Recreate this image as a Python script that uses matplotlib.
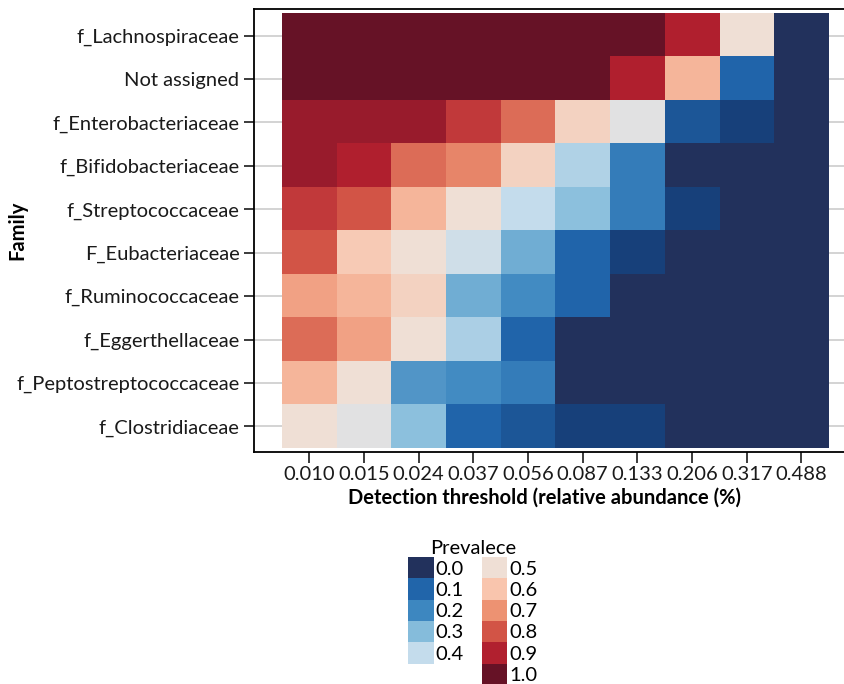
import numpy as np
import matplotlib
matplotlib.use("Agg")
from matplotlib import pyplot as plt
from matplotlib.colors import LinearSegmentedColormap
from matplotlib.patches import Patch

plt.rcParams["font.family"] = ["Lato", "DejaVu Sans"]

families = ["f_Lachnospiraceae", "Not assigned", "f_Enterobacteriaceae",
            "f_Bifidobacteriaceae", "f_Streptococcaceae", "F_Eubacteriaceae",
            "f_Ruminococcaceae", "f_Eggerthellaceae", "f_Peptostreptococcaceae",
            "f_Clostridiaceae"]
thresholds = ["0.010", "0.015", "0.024", "0.037", "0.056", "0.087", "0.133",
              "0.206", "0.317", "0.488"]

# prevalence per family (rows) and detection threshold (columns)
lachno = [1.0, 1.0, 1.0, 1.0, 1.0, 1.0, 1.0, 0.9, 0.5, 0.0]
not_assigned = [1.0, 1.0, 1.0, 1.0, 1.0, 1.0, 0.9, 0.63, 0.1, 0.0]
entero = [0.93, 0.93, 0.93, 0.85, 0.76, 0.55, 0.45, 0.08, 0.05, 0.0]
bifido = [0.93, 0.9, 0.76, 0.72, 0.55, 0.37, 0.17, 0.0, 0.0, 0.0]
strepto = [0.85, 0.8, 0.63, 0.5, 0.4, 0.31, 0.17, 0.05, 0.0, 0.0]
eubact = [0.8, 0.58, 0.5, 0.42, 0.27, 0.1, 0.05, 0.0, 0.0, 0.0]
rumino = [0.67, 0.63, 0.55, 0.27, 0.21, 0.1, 0.0, 0.0, 0.0, 0.0]
egger = [0.76, 0.67, 0.5, 0.36, 0.1, 0.0, 0.0, 0.0, 0.0, 0.0]
pepto = [0.63, 0.5, 0.23, 0.21, 0.17, 0.0, 0.0, 0.0, 0.0, 0.0]
clostr = [0.5, 0.45, 0.31, 0.1, 0.08, 0.05, 0.05, 0.0, 0.0, 0.0]

legend_levels = [0.0, 0.1, 0.2, 0.3, 0.4, 0.5, 0.6, 0.7, 0.8, 0.9, 1.0]

prev = np.array([lachno, not_assigned, entero, bifido, strepto, eubact,
                 rumino, egger, pepto, clostr])

cmap = LinearSegmentedColormap.from_list("prev", [
    (0.0, "#22315c"), (0.05, "#17417c"), (0.1, "#2166ac"), (0.2, "#3d87c0"),
    (0.3, "#86bddc"), (0.4, "#c4dcec"), (0.45, "#e1e2e3"), (0.5, "#efe0d6"),
    (0.6, "#f9c5ad"), (0.7, "#ee9373"), (0.8, "#d25446"), (0.9, "#b2202f"),
    (1.0, "#661226")])

fig = plt.figure(figsize=(8.45, 6.84), dpi=100)
ax = fig.add_axes([254 / 845, 1 - 452 / 684, 602 / 845, 443 / 684])

ax.imshow(prev, cmap=cmap, vmin=0, vmax=1, aspect="auto",
          interpolation="nearest", zorder=2)
ax.set_xlim(-1.012, 10.0)
ax.set_ylim(9.592, -0.615)

ax.set_xticks(range(len(thresholds)))
ax.set_xticklabels(thresholds)
ax.set_yticks(range(len(families)))
ax.set_yticklabels(families)
ax.tick_params(axis="x", length=8, width=1.2, pad=2, labelsize=14.5, colors="#1a1a1a")
ax.tick_params(axis="y", length=7, width=1.2, pad=3.5, labelsize=14.5, colors="#1a1a1a")
ax.set_axisbelow(True)
ax.grid(axis="y", color="#d0d0d0", lw=1.3)
ax.grid(axis="x", visible=False)
for side in ["left", "top", "bottom"]:
    ax.spines[side].set_linewidth(1.3)
ax.spines["right"].set_visible(False)

ax.set_ylabel("Family", fontsize=14.5, fontweight="bold")
ax.yaxis.set_label_coords(-(254 - 27) / 602, 0.5)
ax.set_xlabel("Detection threshold (relative abundance (%)", fontsize=14.5,
              fontweight="bold")
ax.xaxis.set_label_coords((545 - 254) / 602, -(488 - 452) / 443)

handles = [Patch(facecolor=cmap(v), edgecolor="none", label=f"{v:.1f}")
           for v in legend_levels]
# blank slot so the first column holds 0.0-0.4 and the second 0.5-1.0
handles.insert(5, Patch(visible=False, label=""))
fig.legend(handles=handles, ncol=2, title="Prevalece", frameon=False,
           loc="upper center", bbox_to_anchor=(473 / 845, 1 - 526 / 684),
           fontsize=14.5, title_fontsize=14.5, handlelength=1.25,
           handleheight=1.25, handletextpad=0.1, labelspacing=0,
           columnspacing=0.9, borderpad=0.2)

fig.savefig("out.png", dpi=100)
